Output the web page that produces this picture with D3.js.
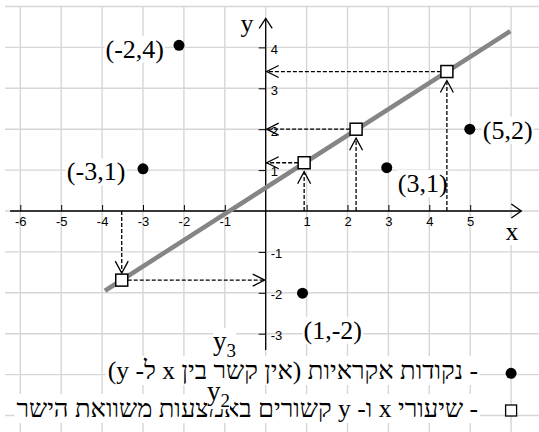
<!DOCTYPE html>
<html>
<head>
<meta charset="utf-8">
<script src="https://cdn.jsdelivr.net/npm/d3@7"></script>
<style>
body { margin: 0; background: #fff; }
</style>
</head>
<body>
<div id="chart"></div>
<script>
// values
var gridXs = [-6, -5, -4, -3, -2, -1, 0, 1, 2, 3, 4, 5, 6];
var gridYs = [-5, -4, -3, -2, -1, 0, 1, 2, 3, 4, 5];
var xTicks = [-6, -5, -4, -3, -2, -1, 1, 2, 3, 4, 5];
var yTicks = [-3, -2, -1, 1, 2, 3, 4];
var pointX = [-2.12, -3, 2.96, 4.99, 0.9];
var pointY = [4.05, 1.03, 1.06, 2, -2.01];
var pointLabels = ["(-2,4)", "(-3,1)", "(3,1)", "(5,2)", "(1,-2)"];
var squareX = [-3.52, 0.94, 2.21, 4.43];
var squareY = [-1.69, 1.18, 2.0, 3.41];
var lineX = [-3.93, 5.98];
var lineY = [-1.95, 4.40];
var legendLabels = ["- נקודות אקראיות (אין קשר בין x ל- y)",
                    "- שיעורי x ו- y קשורים באמצעות משוואת הישר"];

var width = 539, height = 432;
var serif = "'Liberation Serif', 'Times New Roman', serif";
var hebrew = "'Liberation Serif', 'DejaVu Serif', 'Times New Roman', serif";
var sans = "'Liberation Sans', Arial, sans-serif";

var x = d3.scaleLinear().domain([-6, 6]).range([20.3, 511.1]);
var y = d3.scaleLinear().domain([-5, 5]).range([415.5, 6.5]);

var svg = d3.select("#chart").append("svg")
    .attr("width", width)
    .attr("height", height);

// grid
var grid = svg.append("g").attr("stroke", "#d6d6d6").attr("stroke-width", 1.4);
grid.selectAll("line.v").data(gridXs).enter().append("line")
    .attr("x1", d => x(d)).attr("x2", d => x(d))
    .attr("y1", y(5)).attr("y2", height);
grid.selectAll("line.h").data(gridYs).enter().append("line")
    .attr("y1", d => y(d)).attr("y2", d => y(d))
    .attr("x1", 5).attr("x2", width);

// white box behind a text node
function backing(pad) {
    return function() {
        var node = this, b = node.getBBox();
        d3.select(node.parentNode).insert("rect", function() { return node; })
            .attr("x", b.x - pad).attr("y", b.y - pad + 2)
            .attr("width", b.width + 2 * pad).attr("height", b.height + 2 * pad - 4)
            .attr("fill", "#fff");
    };
}

var texts = svg.append("g");

// point labels
var labelPos = [
    {dx: -15, dy: 4, anchor: "end"},
    {dx: -17.7, dy: 3, anchor: "end"},
    {dx: 11, dy: 16, anchor: "start"},
    {dx: 13, dy: 1, anchor: "start"},
    {dx: 1, dy: 37, anchor: "start"}
];
pointLabels.forEach(function(t, i) {
    texts.append("text")
        .attr("x", x(pointX[i]) + labelPos[i].dx)
        .attr("y", y(pointY[i]) + labelPos[i].dy)
        .attr("text-anchor", labelPos[i].anchor)
        .attr("dominant-baseline", "central")
        .style("font-family", serif).style("font-size", "26px")
        .text(t)
        .each(backing(1));
});

// axis names
texts.append("text").attr("x", 512).attr("y", 240).attr("text-anchor", "middle")
    .style("font-family", serif).style("font-size", "26px").text("x").each(backing(1));
texts.append("text").attr("x", 247).attr("y", 32).attr("text-anchor", "middle")
    .style("font-family", serif).style("font-size", "26px").text("y");

// legend lines (right aligned at the dash)
var legendBase = [379, 417];
legendLabels.forEach(function(t, i) {
    var tx = texts.append("text")
        .attr("direction", "rtl")
        .attr("x", 0).attr("y", legendBase[i])
        .style("font-family", hebrew).style("font-size", "25.6px")
        .text(t);
    var b = tx.node().getBBox();
    tx.attr("x", 478 - (b.x + b.width));
    tx.each(backing(2));
});

// stray y3 / y2 labels
function subLabel(px, py, sub) {
    var t = texts.append("text").attr("x", px).attr("y", py)
        .style("font-family", serif).style("font-size", "27px");
    t.append("tspan").text("y");
    t.append("tspan").attr("dy", 7).style("font-size", "19px").text(sub);
    t.each(backing(0));
}
subLabel(213, 350, "3");
subLabel(207, 400, "2");

// x axis
var xAxis = d3.axisBottom(x).tickValues(xTicks).tickFormat(d => String(d))
    .tickSize(-6).tickPadding(6);
var gx = svg.append("g").attr("transform", "translate(0," + y(0) + ")").call(xAxis);
gx.select(".domain").remove();
gx.selectAll("text").style("font-family", sans).style("font-size", "13px").attr("fill", "#000");

// y axis
var yAxis = d3.axisRight(y).tickValues(yTicks).tickFormat(d => String(d))
    .tickSize(-7).tickPadding(5);
var gy = svg.append("g").attr("transform", "translate(" + x(0) + ",0)").call(yAxis);
gy.select(".domain").remove();
gy.selectAll("text").style("font-family", sans).style("font-size", "13px")
    .attr("fill", "#000").attr("dy", "0.45em");

// axis lines
svg.append("line").attr("x1", x(-6.25)).attr("x2", x(6.25))
    .attr("y1", y(0)).attr("y2", y(0)).attr("stroke", "#000").attr("stroke-width", 1.3);
svg.append("line").attr("x1", x(0)).attr("x2", x(0))
    .attr("y1", y(-3.4)).attr("y2", y(4.71)).attr("stroke", "#000").attr("stroke-width", 1.3);

// open chevron arrowhead: tip, direction, length, half width
function chevron(tx, ty, dx, dy, len, hw) {
    var nx = -dy, ny = dx;
    return "M" + (tx - len * dx + hw * nx) + "," + (ty - len * dy + hw * ny) +
        "L" + tx + "," + ty +
        "L" + (tx - len * dx - hw * nx) + "," + (ty - len * dy - hw * ny);
}
var heads = svg.append("g").attr("fill", "none").attr("stroke", "#000").attr("stroke-width", 1.3);
heads.append("path").attr("d", chevron(x(6.25), y(0), 1, 0, 10, 7));
heads.append("path").attr("d", chevron(x(0), y(4.71), 0, -1, 10, 6.5));

// fitted line
svg.append("line")
    .attr("x1", x(lineX[0])).attr("y1", y(lineY[0]))
    .attr("x2", x(lineX[1])).attr("y2", y(lineY[1]))
    .attr("stroke", "#858585").attr("stroke-width", 4.5);

// dashed guides from the axes to each square
var half = 6;
var guides = svg.append("g").attr("fill", "none").attr("stroke", "#000")
    .attr("stroke-width", 1.3);
squareX.forEach(function(sx, i) {
    var px = x(sx), py = y(squareY[i]);
    var up = squareY[i] > 0;
    var tipY = up ? py + half + 3 : py - half - 1;
    guides.append("line").attr("x1", px).attr("x2", px)
        .attr("y1", y(0)).attr("y2", tipY).attr("stroke-dasharray", "4,2");
    guides.append("path").attr("d", chevron(px, tipY, 0, up ? -1 : 1, 12, 6.5));
    var sx0 = up ? px - half : px + half;
    guides.append("line").attr("x1", sx0).attr("x2", x(0))
        .attr("y1", py).attr("y2", py).attr("stroke-dasharray", "4,2");
    guides.append("path").attr("d", chevron(x(0) + (up ? 1 : -1), py, up ? -1 : 1, 0, 12, 6));
});

// squares
svg.selectAll("rect.sq").data(squareX).enter().append("rect")
    .attr("x", d => x(d) - half)
    .attr("y", (d, i) => y(squareY[i]) - half)
    .attr("width", 2 * half).attr("height", 2 * half)
    .attr("fill", "#fff").attr("stroke", "#000").attr("stroke-width", 1.5);

// random points
svg.selectAll("circle.pt").data(pointX).enter().append("circle")
    .attr("cx", d => x(d))
    .attr("cy", (d, i) => y(pointY[i]))
    .attr("r", 5.5).attr("fill", "#000");

// legend markers
svg.append("circle").attr("cx", x(6)).attr("cy", 373.3).attr("r", 5.5).attr("fill", "#000");
svg.append("rect").attr("x", x(6) - 5.5).attr("y", 405).attr("width", 11).attr("height", 11)
    .attr("fill", "#fff").attr("stroke", "#000").attr("stroke-width", 1.3);
</script>
</body>
</html>
